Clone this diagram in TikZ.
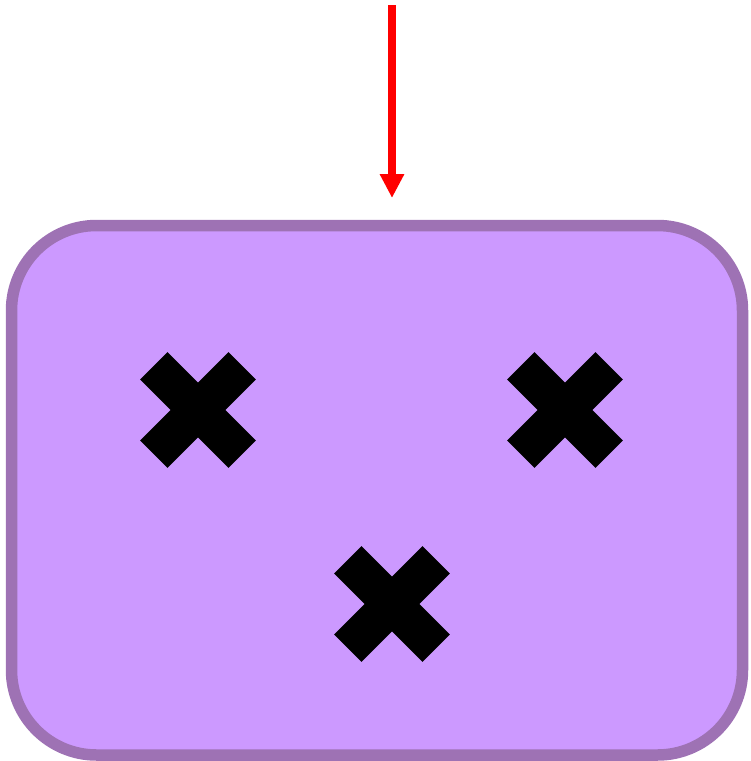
\documentclass[tikz,border=0pt]{standalone}
\usepackage{tikz}
\usetikzlibrary{shapes.misc,arrows.meta,positioning}
\definecolor{box-fill}{RGB}{204,153,255}
\definecolor{box-line}{RGB}{158,114,180}
\definecolor{arrow-red}{RGB}{255,0,0}

\begin{document}
\begin{tikzpicture}[x=1pt, y=-1pt,
  mark-x/.style={cross out, draw=black, line width=38.7pt, minimum size=88.4pt, inner sep=0pt, outer sep=0pt}]
  \useasboundingbox (0,0) rectangle (751,761);

  % Box
  \node[draw=box-line, fill=box-fill, line width=11.5pt, rounded corners=85pt,
        minimum width=731pt, minimum height=529.5pt, inner sep=0pt] (box) at (377,490.25) {};

  % Marks
  \node[mark-x] (markA) at (198,410) {};
  \node[mark-x] (markB) at (565,410) {};
  \node[mark-x] (markC) at (392,604) {};

  % Arrow
  \coordinate (src) at (392,5);
  \coordinate (dst) at (392,198);
  \draw[arrow-red, line width=8pt, -{Triangle[length=24pt,width=23pt]}] (src) -- (dst);
\end{tikzpicture}
\end{document}
